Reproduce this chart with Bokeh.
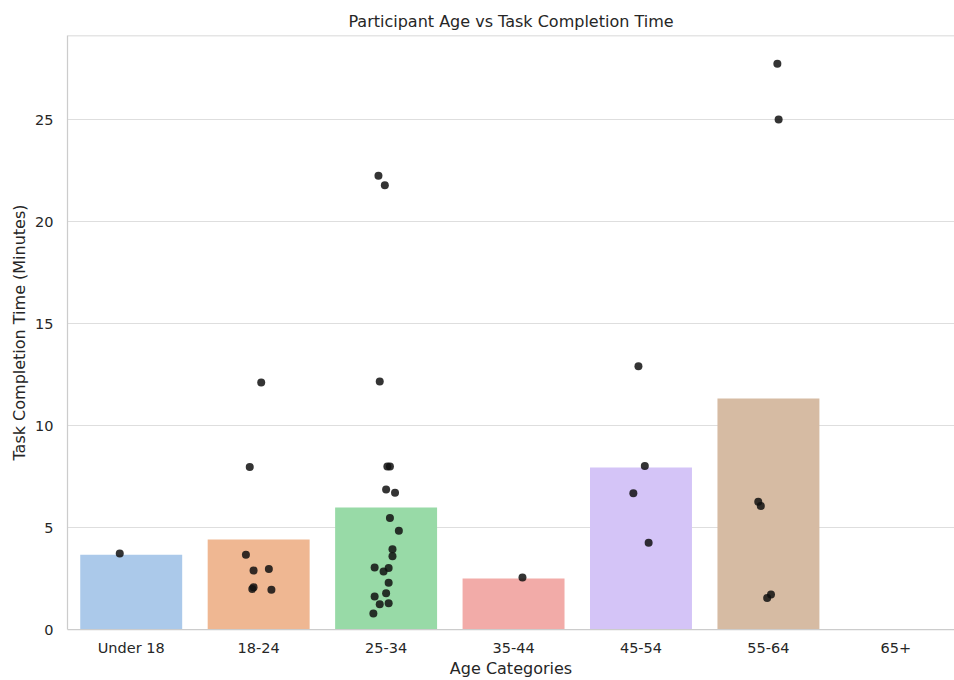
from bokeh.plotting import figure
from bokeh.models import FixedTicker, Range1d, Span, ColumnDataSource
from bokeh.embed import file_html
from bokeh.resources import INLINE

# ---- data ----
categories = ["Under 18", "18-24", "25-34", "35-44", "45-54", "55-64", "65+"]
mean_minutes = [3.66, 4.41, 5.98, 2.50, 7.94, 11.32, 0.0]
bar_colors = ["#abc9ea", "#efb792", "#98daa7", "#f2aba8", "#d4c4f7", "#d6bba3", "#f0c3e2"]

under18_times = [3.72]
under18_jitter = [-0.09]
age18_24_times = [12.11, 7.97, 3.66, 2.89, 2.96, 2.07, 1.98, 1.95]
age18_24_jitter = [0.02, -0.07, -0.10, -0.04, 0.08, -0.04, -0.05, 0.10]
age25_34_times = [22.25, 21.78, 12.16, 7.99, 7.99, 6.86, 6.70, 5.47, 4.84, 3.94,
                  3.59, 3.04, 2.84, 3.01, 2.29, 1.78, 1.62, 1.24, 1.29, 0.78]
age25_34_jitter = [-0.06, -0.01, -0.05, 0.01, 0.03, 0.00, 0.07, 0.03, 0.10, 0.05,
                   0.05, -0.09, -0.02, 0.02, 0.02, 0.00, -0.09, -0.05, 0.02, -0.10]
age35_44_times = [2.55]
age35_44_jitter = [0.07]
age45_54_times = [12.91, 8.02, 6.68, 4.25]
age45_54_jitter = [-0.02, 0.03, -0.06, 0.06]
age55_64_times = [27.73, 25.00, 6.26, 6.06, 1.72, 1.54]
age55_64_jitter = [0.07, 0.08, -0.08, -0.06, 0.02, -0.01]

y_ticks = [0, 5, 10, 15, 20, 25]
y_max = 29.12

# ---- build sources ----
groups = [
    (0, under18_times, under18_jitter),
    (1, age18_24_times, age18_24_jitter),
    (2, age25_34_times, age25_34_jitter),
    (3, age35_44_times, age35_44_jitter),
    (4, age45_54_times, age45_54_jitter),
    (5, age55_64_times, age55_64_jitter),
]
px, py = [], []
for idx, ts, js in groups:
    for t, j in zip(ts, js):
        px.append(idx + j)
        py.append(t)

bar_src = ColumnDataSource(dict(x=list(range(len(categories))), top=mean_minutes,
                                color=bar_colors))
pt_src = ColumnDataSource(dict(x=px, y=py))

FONT = "DejaVu Sans"
TXT = "#262626"
SPINE = "#cccccc"

p = figure(width=954, height=680, output_backend="svg", toolbar_location=None,
           title="Participant Age vs Task Completion Time",
           x_range=Range1d(-0.5, 6.46), y_range=Range1d(0, y_max),
           min_border_left=67, min_border_right=0, min_border_top=35,
           min_border_bottom=10)

p.vbar(x="x", top="top", width=0.8, bottom=0, fill_color="color",
       line_color=None, source=bar_src)
p.scatter(x="x", y="y", size=8, fill_color="#111111", fill_alpha=0.85,
          line_color=None, source=pt_src)

# title
p.title.text_font = FONT
p.title.text_font_size = "16px"
p.title.text_font_style = "normal"
p.title.text_color = TXT
p.title.align = "center"
p.title.standoff = 10

# axes
p.xaxis.ticker = FixedTicker(ticks=list(range(len(categories))))
p.xaxis.major_label_overrides = {i: c for i, c in enumerate(categories)}
p.yaxis.ticker = FixedTicker(ticks=y_ticks)
p.xaxis.axis_label = "Age Categories"
p.yaxis.axis_label = "Task Completion Time (Minutes)"
for ax in (p.xaxis, p.yaxis):
    ax.axis_label_text_font = FONT
    ax.axis_label_text_font_size = "16px"
    ax.axis_label_text_font_style = "normal"
    ax.axis_label_text_color = TXT
    ax.major_label_text_font = FONT
    ax.major_label_text_font_size = "14.5px"
    ax.major_label_text_color = TXT
    ax.major_tick_line_color = None
    ax.minor_tick_line_color = None
    ax.major_tick_out = 0
    ax.major_tick_in = 0
    ax.minor_tick_out = 0
    ax.minor_tick_in = 0
    ax.axis_line_color = SPINE
    ax.axis_line_width = 1.25
p.xaxis.major_label_standoff = 10
p.xaxis.axis_label_standoff = 0
p.yaxis.major_label_standoff = 14
p.yaxis.axis_label_standoff = 3

# grid
p.xgrid.grid_line_color = None
p.ygrid.grid_line_color = "#dedede"
p.ygrid.grid_line_width = 1.2
p.ygrid.ticker = FixedTicker(ticks=y_ticks)

p.outline_line_color = None
p.add_layout(Span(location=y_max, dimension="width", line_color=SPINE,
                  line_width=1.25))

p.background_fill_color = "white"
p.border_fill_color = "white"

open("out.html", "w").write(file_html(p, INLINE))
